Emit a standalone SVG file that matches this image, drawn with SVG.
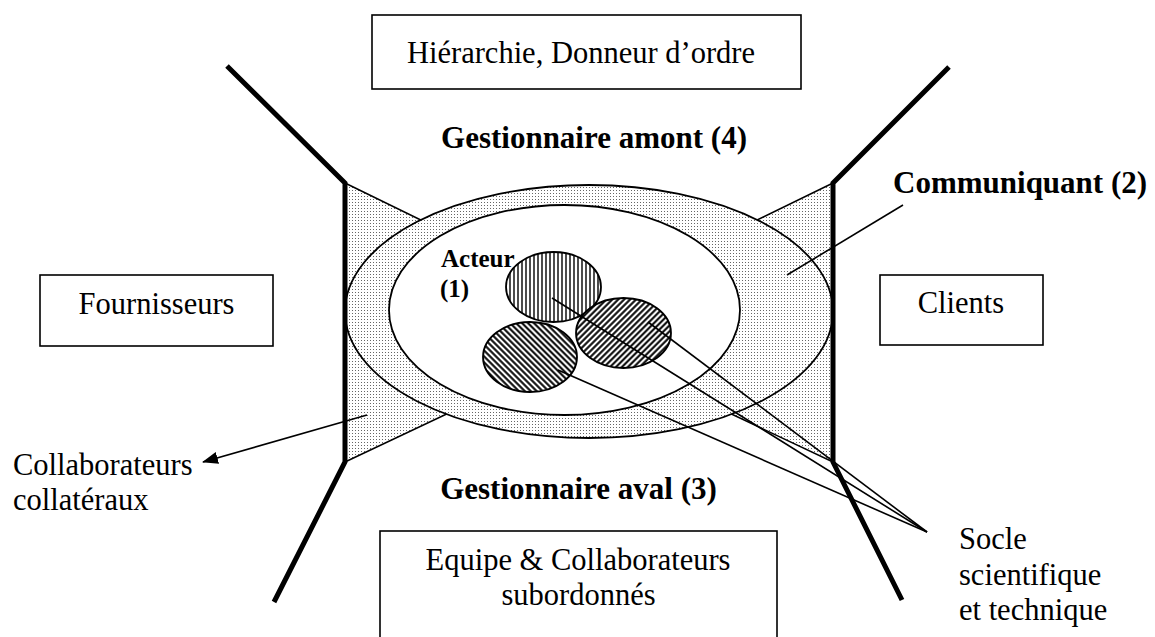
<svg xmlns="http://www.w3.org/2000/svg" width="1155" height="637" viewBox="0 0 1155 637">
<style>
.box{fill:#fff;stroke:#000;stroke-width:1.6}
.t{font-size:30.5px;fill:#000}
.b{font-size:31px;font-weight:bold;fill:#000}
.thick{fill:none;stroke:#000;stroke-width:5;stroke-linecap:butt;stroke-linejoin:miter}
.thin{fill:none;stroke:#000;stroke-width:1.6}
.ell{stroke:#000;stroke-width:1.8}
</style>
<defs>
<pattern id="dots" width="3" height="3" patternUnits="userSpaceOnUse">
<rect width="3" height="3" fill="#fff"/>
<rect x="1" y="1" width="1" height="1" fill="#666"/>
</pattern>
<pattern id="vert" width="4" height="4" patternUnits="userSpaceOnUse">
<rect width="4" height="4" fill="#fff"/>
<line x1="2" y1="0" x2="2" y2="4" stroke="#000" stroke-width="1.4"/>
</pattern>
<pattern id="fwd" width="4.2" height="4.2" patternUnits="userSpaceOnUse" patternTransform="rotate(45)">
<rect width="4.2" height="4.2" fill="#fff"/>
<line x1="2.1" y1="0" x2="2.1" y2="4.2" stroke="#000" stroke-width="2"/>
</pattern>
<pattern id="bwd" width="4.2" height="4.2" patternUnits="userSpaceOnUse" patternTransform="rotate(-45)">
<rect width="4.2" height="4.2" fill="#fff"/>
<line x1="2.1" y1="0" x2="2.1" y2="4.2" stroke="#000" stroke-width="2"/>
</pattern>
<marker id="arr" markerWidth="16" markerHeight="12" refX="15" refY="6" orient="auto" markerUnits="userSpaceOnUse">
<path d="M0,0 L16,6 L0,12 z" fill="#000"/>
</marker>
</defs>

<g id="shapes">
<polygon points="345,183 470,244 470,403 345,462" fill="url(#dots)" stroke="#000" stroke-width="1.5"/>
<polygon points="833,183 708,244 708,403 833,462" fill="url(#dots)" stroke="#000" stroke-width="1.5"/>
<ellipse id="communiquant-ring" cx="589" cy="311.5" rx="244" ry="126.5" fill="url(#dots)" class="ell"/>
<ellipse id="acteur-zone" cx="564.5" cy="310" rx="175.5" ry="105" fill="#fff" class="ell"/>
<ellipse id="socle-1" cx="553.5" cy="287" rx="47.5" ry="35" fill="url(#vert)" class="ell"/>
<ellipse id="socle-3" cx="530" cy="357" rx="47" ry="35" fill="url(#bwd)" class="ell"/>
<ellipse id="socle-2" cx="623.5" cy="333" rx="47.5" ry="35" fill="url(#fwd)" class="ell"/>
</g>

<g id="connectors">
<line x1="552" y1="298" x2="927" y2="532" class="thin"/>
<line x1="648" y1="322" x2="927" y2="532" class="thin"/>
<line x1="558" y1="370" x2="927" y2="532" class="thin"/>
<line x1="903" y1="205" x2="787" y2="275" class="thin"/>
<line x1="367" y1="415" x2="203" y2="462" class="thin" marker-end="url(#arr)"/>
</g>

<g id="frame">
<polyline points="227,66 345,183 345,462 274,602" class="thick"/>
<polyline points="949,67 833,183 833,462 902,600" class="thick"/>
</g>

<g font-family="'Liberation Serif', 'Times New Roman', 'DejaVu Serif', serif">
<g id="hierarchie">
<rect x="372" y="15" width="429" height="74" class="box"/>
<text x="581" y="63" text-anchor="middle" class="t">Hiérarchie, Donneur d’ordre</text>
</g>
<g id="fournisseurs">
<rect x="40" y="275" width="233" height="71" class="box"/>
<text x="156.5" y="314" text-anchor="middle" class="t">Fournisseurs</text>
</g>
<g id="clients">
<rect x="880" y="275" width="163" height="70" class="box"/>
<text x="961" y="313" text-anchor="middle" class="t">Clients</text>
</g>
<g id="equipe">
<rect x="380" y="531" width="397" height="120" class="box"/>
<text x="578" y="570" text-anchor="middle" class="t">Equipe &amp; Collaborateurs</text>
<text x="578.5" y="605" text-anchor="middle" class="t">subordonnés</text>
</g>

<g id="labels">
<text x="594" y="148" text-anchor="middle" class="b">Gestionnaire amont (4)</text>
<text x="578.5" y="499" text-anchor="middle" class="b">Gestionnaire aval (3)</text>
<text x="893" y="193" class="b">Communiquant (2)</text>
<text x="441" y="267" class="b" style="font-size:25px">Acteur</text>
<text x="440" y="297" class="b" style="font-size:25px">(1)</text>
<text x="13" y="475" class="t">Collaborateurs</text>
<text x="13" y="510" class="t">collatéraux</text>
<text x="959" y="549" class="t">Socle</text>
<text x="959" y="585" class="t">scientifique</text>
<text x="959" y="620" class="t">et technique</text>
</g>
</g>
</svg>
